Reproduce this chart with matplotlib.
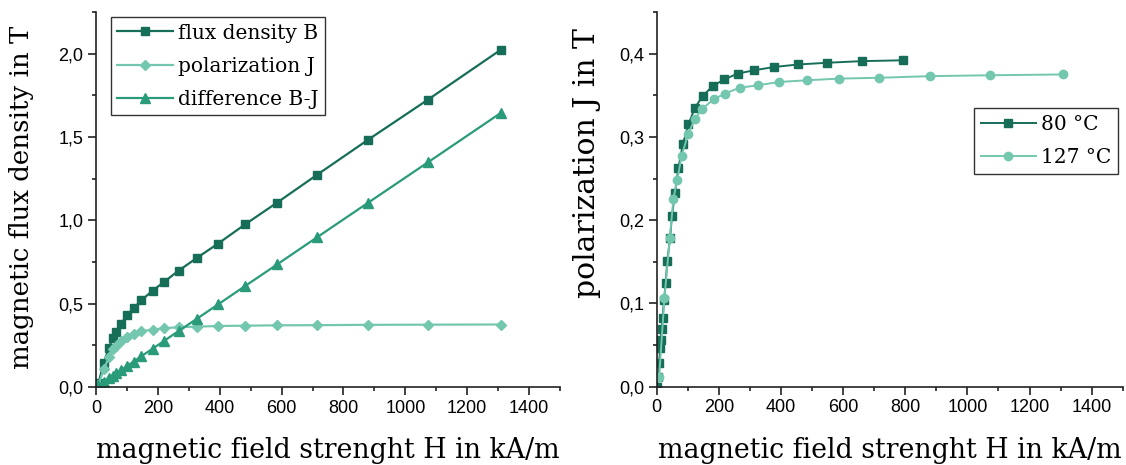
import matplotlib.pyplot as plt
from matplotlib.ticker import MultipleLocator, FuncFormatter

# measured data at 127 °C (H in kA/m, values in T)
H_127 = [8, 25, 42, 54, 66, 80, 101, 122, 147, 183, 219, 267, 325, 395, 483, 586, 716, 880, 1073, 1309]
B_127 = [0.022, 0.146, 0.234, 0.296, 0.332, 0.378, 0.432, 0.473, 0.521, 0.578, 0.629, 0.698,
         0.773, 0.861, 0.977, 1.107, 1.275, 1.484, 1.724, 2.024]
J_127 = [0.012, 0.107, 0.178, 0.226, 0.248, 0.277, 0.303, 0.321, 0.334, 0.345, 0.352, 0.359,
         0.362, 0.366, 0.368, 0.370, 0.371, 0.373, 0.374, 0.375]
D_127 = [0.010, 0.031, 0.053, 0.068, 0.083, 0.101, 0.127, 0.153, 0.185, 0.230, 0.275, 0.336,
         0.408, 0.496, 0.607, 0.736, 0.900, 1.106, 1.348, 1.645]

# polarization at 80 °C
H_80 = [0, 5, 8, 10.7, 12.9, 16, 19, 23.5, 29, 34, 43, 49, 59, 70, 84, 102, 123, 148, 180,
        217, 261, 313, 379, 456, 547, 660, 794]
J_80 = [0, 0.012, 0.028, 0.046, 0.056, 0.069, 0.082, 0.104, 0.125, 0.151, 0.178, 0.205, 0.233,
        0.263, 0.291, 0.315, 0.335, 0.349, 0.361, 0.369, 0.376, 0.380, 0.384, 0.387, 0.389,
        0.391, 0.392]

dark = '#176e58'
light = '#74c7af'
mid = '#2a9b7a'

serif = 'DejaVu Serif'
plt.rcParams['font.family'] = 'Liberation Sans'

W, Hh = 1126, 465
fig = plt.figure(figsize=(W / 100, Hh / 100), dpi=100)


def px_axes(x0, x1, ytop, ybot):
    return fig.add_axes([x0 / W, 1 - ybot / Hh, (x1 - x0) / W, (ybot - ytop) / Hh])


comma = FuncFormatter(lambda v, p: f'{v:.1f}'.replace('.', ','))


def style(ax):
    ax.spines['top'].set_visible(False)
    ax.spines['right'].set_visible(False)
    for s in ('left', 'bottom'):
        ax.spines[s].set_linewidth(1.2)
        ax.spines[s].set_color('#222222')
    ax.xaxis.set_major_locator(MultipleLocator(200))
    ax.xaxis.set_minor_locator(MultipleLocator(100))
    ax.yaxis.set_major_formatter(comma)
    ax.tick_params(which='major', direction='out', length=5.5, width=1.2, color='#222222',
                   labelsize=13, pad=3.5)
    ax.tick_params(which='minor', direction='out', length=3, width=1.2, color='#222222')


def legend(ax, anchor):
    leg = ax.legend(loc='upper left', bbox_to_anchor=anchor, borderaxespad=0,
                    prop={'family': serif, 'size': 14.5}, frameon=True, fancybox=False,
                    edgecolor='black', handlelength=2.75, handletextpad=0.25,
                    labelspacing=0.7, borderpad=0.33)
    leg.get_frame().set_linewidth(1.0)


# left: B, J and B-J
ax1 = px_axes(96, 560, 12, 387)
ax1.plot(H_127, B_127, '-s', color=dark, lw=1.6, ms=6, label='flux density B')
ax1.plot(H_127, J_127, '-D', color=light, lw=1.6, ms=5.5, label='polarization J')
ax1.plot(H_127, D_127, '-^', color=mid, lw=1.6, ms=7, label='difference B-J')
ax1.set_xlim(0, 1500)
ax1.set_ylim(0, 2.25)
ax1.yaxis.set_major_locator(MultipleLocator(0.5))
ax1.yaxis.set_minor_locator(MultipleLocator(0.25))
style(ax1)
ax1.set_xlabel('magnetic field strenght H in kA/m', fontsize=19.3, family=serif, va='baseline')
ax1.xaxis.set_label_coords(0.5, -0.1893)
ax1.set_ylabel('magnetic flux density in T', fontsize=18.7, family=serif, va='center')
ax1.yaxis.set_label_coords(-0.1606, 0.505)
legend(ax1, (0.032, 0.987))

# right: J at two temperatures
ax2 = px_axes(656.7, 1122.7, 12, 386.7)
ax2.plot(H_80, J_80, '-s', color=dark, lw=1.4, ms=5.5, label='80 °C')
ax2.plot(H_127, J_127, '-o', color=light, lw=1.4, ms=6, label='127 °C')
ax2.set_xlim(0, 1500)
ax2.set_ylim(0, 0.45)
ax2.yaxis.set_major_locator(MultipleLocator(0.1))
ax2.yaxis.set_minor_locator(MultipleLocator(0.05))
style(ax2)
ax2.set_xlabel('magnetic field strenght H in kA/m', fontsize=19.3, family=serif, va='baseline')
ax2.xaxis.set_label_coords(0.5, -0.191)
ax2.set_ylabel('polarization J in T', fontsize=21.5, family=serif, va='center')
ax2.yaxis.set_label_coords(-0.150, 0.596)
legend(ax2, (0.681, 0.743))

fig.savefig('out.png', dpi=100)
